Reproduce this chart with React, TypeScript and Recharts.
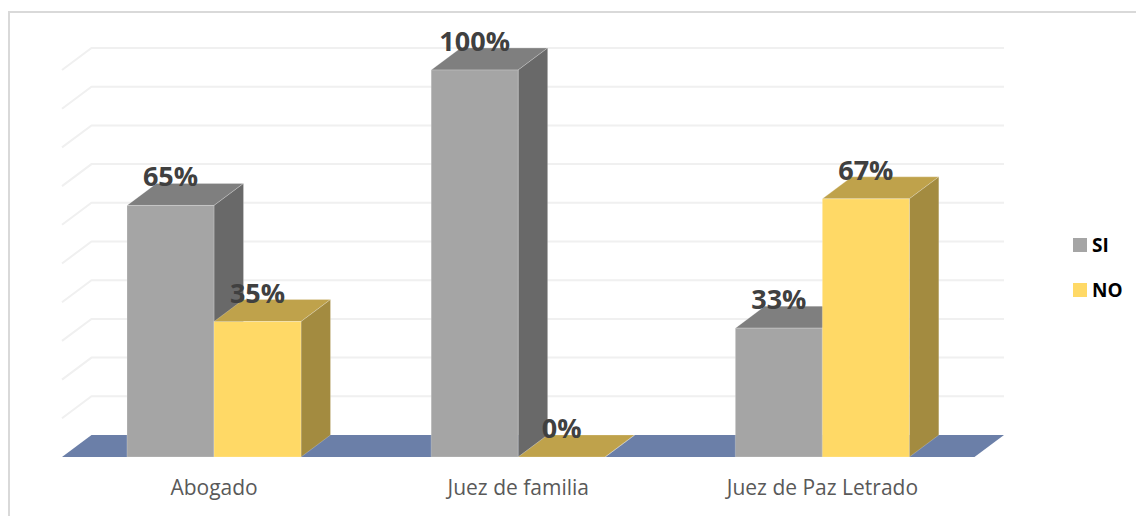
import { BarChart, Bar, XAxis, YAxis, CartesianGrid, LabelList, Legend } from "recharts";

const categories = ["Abogado", "Juez de familia", "Juez de Paz Letrado"];
const siValues = [65, 100, 33.3];
const noValues = [35, 0, 66.7];
const valueTicks = [0, 10, 20, 30, 40, 50, 60, 70, 80, 90, 100];

const data = categories.map((name, i) => ({ name, SI: siValues[i], NO: noValues[i] }));

// offset of the back wall from the front plane
const DEPTH_X = 29.5;
const DEPTH_Y = 22;

const FLOOR = "#6b7fa8";
const GRID = "#f0f0f0";
const EDGE = "rgba(255,255,255,0.22)";
const FONT = "'Open Sans', sans-serif";

const makeBox = (topFill: string, sideFill: string) => (props: any) => {
  const { x, y, width, height, fill } = props;
  const r = x + width;
  const b = y + height;
  return (
    <g stroke={EDGE} strokeWidth={1}>
      <polygon
        points={`${x},${y} ${r},${y} ${r + DEPTH_X},${y - DEPTH_Y} ${x + DEPTH_X},${y - DEPTH_Y}`}
        fill={topFill}
      />
      <polygon
        points={`${r},${y} ${r + DEPTH_X},${y - DEPTH_Y} ${r + DEPTH_X},${b - DEPTH_Y} ${r},${b}`}
        fill={sideFill}
      />
      <rect x={x} y={y} width={width} height={height} fill={fill} />
    </g>
  );
};

// each grid line runs along the back wall and has a stub down the side wall
const gridLine = (props: any) => {
  const { x1, x2, y1, index } = props;
  if (index === 0 || y1 > 450) {
    return (
      <polygon
        key="floor"
        points={`${x1},${y1} ${x1 + DEPTH_X},${y1 - DEPTH_Y} ${x2 + DEPTH_X},${y1 - DEPTH_Y} ${x2},${y1}`}
        fill={FLOOR}
      />
    );
  }
  return (
    <polyline
      key={y1}
      points={`${x1},${y1} ${x1 + DEPTH_X},${y1 - DEPTH_Y} ${x2 + DEPTH_X},${y1 - DEPTH_Y}`}
      fill="none"
      stroke={GRID}
      strokeWidth={2}
    />
  );
};

const legendContent = (props: any) => (
  <div style={{ fontFamily: FONT, fontWeight: 700, fontSize: 19, color: "#000" }}>
    {props.payload.map((item: any) => (
      <div key={item.value} style={{ display: "flex", alignItems: "center", height: 45 }}>
        <span style={{ width: 14, height: 14, background: item.color, marginRight: 5 }} />
        <span>{item.value}</span>
      </div>
    ))}
  </div>
);

const pct = (v: any) => `${Math.round(v)}%`;

const labelStyle = { fontFamily: FONT, fontWeight: 700, fontSize: 27, fill: "#404040" };

const App = () => (
  <div style={{ position: "absolute", left: 0, top: 0, width: 1136, height: 516, overflow: "hidden", background: "#fff" }}>
    <div
      style={{
        position: "absolute",
        left: 8,
        top: 11,
        width: 1128,
        height: 505,
        borderTop: "2px solid #d9d9d9",
        borderLeft: "2px solid #d9d9d9",
      }}
    />
    <div style={{ position: "absolute", left: 0, top: 0 }}>
      <BarChart
        width={1136}
        height={516}
        data={data}
        margin={{ top: 70, right: 161.5, bottom: 9, left: 62 }}
        barSize={87}
        barGap={0}
      >
        <CartesianGrid vertical={false} horizontal={gridLine} />
        <XAxis
          dataKey="name"
          height={50}
          axisLine={false}
          tickLine={false}
          interval={0}
          tickMargin={17}
          tick={{ fontFamily: FONT, fontSize: 21, fill: "#595959" }}
        />
        <YAxis hide domain={[0, 100]} ticks={valueTicks} />
        <Legend
          layout="vertical"
          align="center"
          verticalAlign="middle"
          itemSorter={null}
          wrapperStyle={{ left: 1073, top: 222, width: 60 }}
          content={legendContent}
        />
        <Bar dataKey="SI" fill="#a5a5a5" shape={makeBox("#7f7f7f", "#696969")} isAnimationActive={false}>
          <LabelList dataKey="SI" position="top" offset={19} formatter={pct} style={labelStyle} />
        </Bar>
        <Bar dataKey="NO" fill="#ffd966" shape={makeBox("#bfa24b", "#a38b40")} isAnimationActive={false}>
          <LabelList dataKey="NO" position="top" offset={19} formatter={pct} style={labelStyle} />
        </Bar>
      </BarChart>
    </div>
  </div>
);

export default App;
